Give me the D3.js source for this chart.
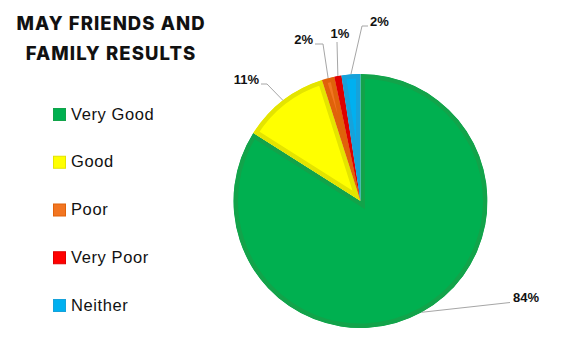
<!DOCTYPE html>
<html>
<head>
<meta charset="utf-8">
<script src="https://cdn.jsdelivr.net/npm/d3@7/dist/d3.min.js"></script>
<style>
  body { margin: 0; background: #fff; }
  svg { display: block; }
</style>
</head>
<body>
<div id="chart"></div>
<script>
// chart values
var categories = ["Very Good", "Good", "Poor", "Very Poor", "Neither"]
var shares = [84.0, 11.1, 1.6, 0.9, 2.4]
var fills = ["#00B050", "#FFFF00", "#F27521", "#FF0000", "#00B0F0"]
var borders = ["#12A34A", "#E4E400", "#E0620A", "#DE0000", "#17A2DA"]
var titleLines = ["MAY FRIENDS AND", "FAMILY RESULTS"]

// label placement, relative to the pie centre (text anchor and leader knee)
var labelLayout = [
  {tx: 152.5, ty: 101, anchor: "start", kx: 149.5, ky: 101.5},
  {tx: -101.5, ty: -117, anchor: "end", kx: -93.5, ky: -117},
  {tx: -47.5, ty: -157, anchor: "end", kx: -37.5, ky: -157},
  {tx: -20.5, ty: -163, anchor: "middle", kx: -23.5, ky: -159},
  {tx: 9.5, ty: -175, anchor: "start", kx: 1.5, ky: -175}
]

var width = 575
var height = 360
var cx = 360.5, cy = 201, radius = 127

var svg = d3.select("#chart")
  .append("svg")
    .attr("width", width)
    .attr("height", height)

// title, centred block
var titleWidths = [188, 169.5]
svg.append("g")
  .selectAll("text")
  .data(titleLines)
  .enter().append("text")
    .attr("x", (d, i) => 110.5 - titleWidths[i] / 2)
    .attr("y", (d, i) => 29.5 + i * 30)
    .attr("textLength", (d, i) => titleWidths[i])
    .attr("lengthAdjust", "spacing")
    .style("font-family", "Inter, Roboto, sans-serif")
    .style("font-weight", 800)
    .style("font-size", "18.5px")
    .style("fill", "#111")
    .text(d => d)

// pie
var data = categories.map((c, i) => ({name: c, value: shares[i], fill: fills[i], border: borders[i], i: i}))

var pie = d3.pie().sort(null).value(d => d.value)
var arc = d3.arc().innerRadius(0).outerRadius(radius)
var arcs = pie(data)

var pieG = svg.append("g").attr("transform", "translate(" + cx + "," + cy + ")")

var defs = svg.append("defs")
defs.selectAll("clipPath")
  .data(arcs)
  .enter().append("clipPath")
    .attr("id", d => "slice" + d.data.i)
  .append("path")
    .attr("d", arc)

pieG.selectAll("path.slice")
  .data(arcs)
  .enter().append("path")
    .attr("class", "slice")
    .attr("d", arc)
    .attr("clip-path", d => "url(#slice" + d.data.i + ")")
    .style("fill", d => d.data.fill)
    .style("stroke", d => d.data.border)
    .style("stroke-width", 9)
    .style("stroke-linejoin", "miter")

// data labels with leader lines
var edge = d => {
  var a = (d.startAngle + d.endAngle) / 2
  return [radius * Math.sin(a), -radius * Math.cos(a)]
}

pieG.selectAll("polyline")
  .data(arcs)
  .enter().append("polyline")
    .attr("points", d => {
      var L = labelLayout[d.data.i]
      var pts = [edge(d), [L.kx, L.ky]]
      if (L.anchor == "end") pts.push([L.tx + 2, L.ty])
      if (L.anchor == "start" && L.kx < L.tx - 3) pts.push([L.tx - 2, L.ty])
      return pts.map(p => p.join(",")).join(" ")
    })
    .style("fill", "none")
    .style("stroke", "#A6A6A6")
    .style("stroke-width", 1)

pieG.selectAll("text.lbl")
  .data(arcs)
  .enter().append("text")
    .attr("class", "lbl")
    .attr("x", d => labelLayout[d.data.i].tx)
    .attr("y", d => labelLayout[d.data.i].ty)
    .attr("text-anchor", d => labelLayout[d.data.i].anchor)
    .style("font-family", "'Liberation Sans', Arial, sans-serif")
    .style("font-weight", 700)
    .style("font-size", "13px")
    .style("fill", "#111")
    .text(d => Math.round(d.data.value) + "%")

// legend
var ly = d3.scalePoint()
  .domain(categories)
  .range([114, 305])

var legend = svg.append("g")
  .selectAll("g")
  .data(data)
  .enter().append("g")
    .attr("transform", d => "translate(53," + ly(d.name) + ")")

legend.append("rect")
  .attr("x", 0.5)
  .attr("y", -5.5)
  .attr("width", 12)
  .attr("height", 12)
  .style("fill", d => d.fill)
  .style("stroke", d => d.border)
  .style("stroke-width", 1)

legend.append("text")
  .attr("x", 18)
  .attr("y", 5.5)
  .style("font-family", "'Liberation Sans', Arial, sans-serif")
  .style("font-size", "16.5px")
  .style("letter-spacing", "0.6px")
  .style("fill", "#111")
  .text(d => d.name)
</script>
</body>
</html>
